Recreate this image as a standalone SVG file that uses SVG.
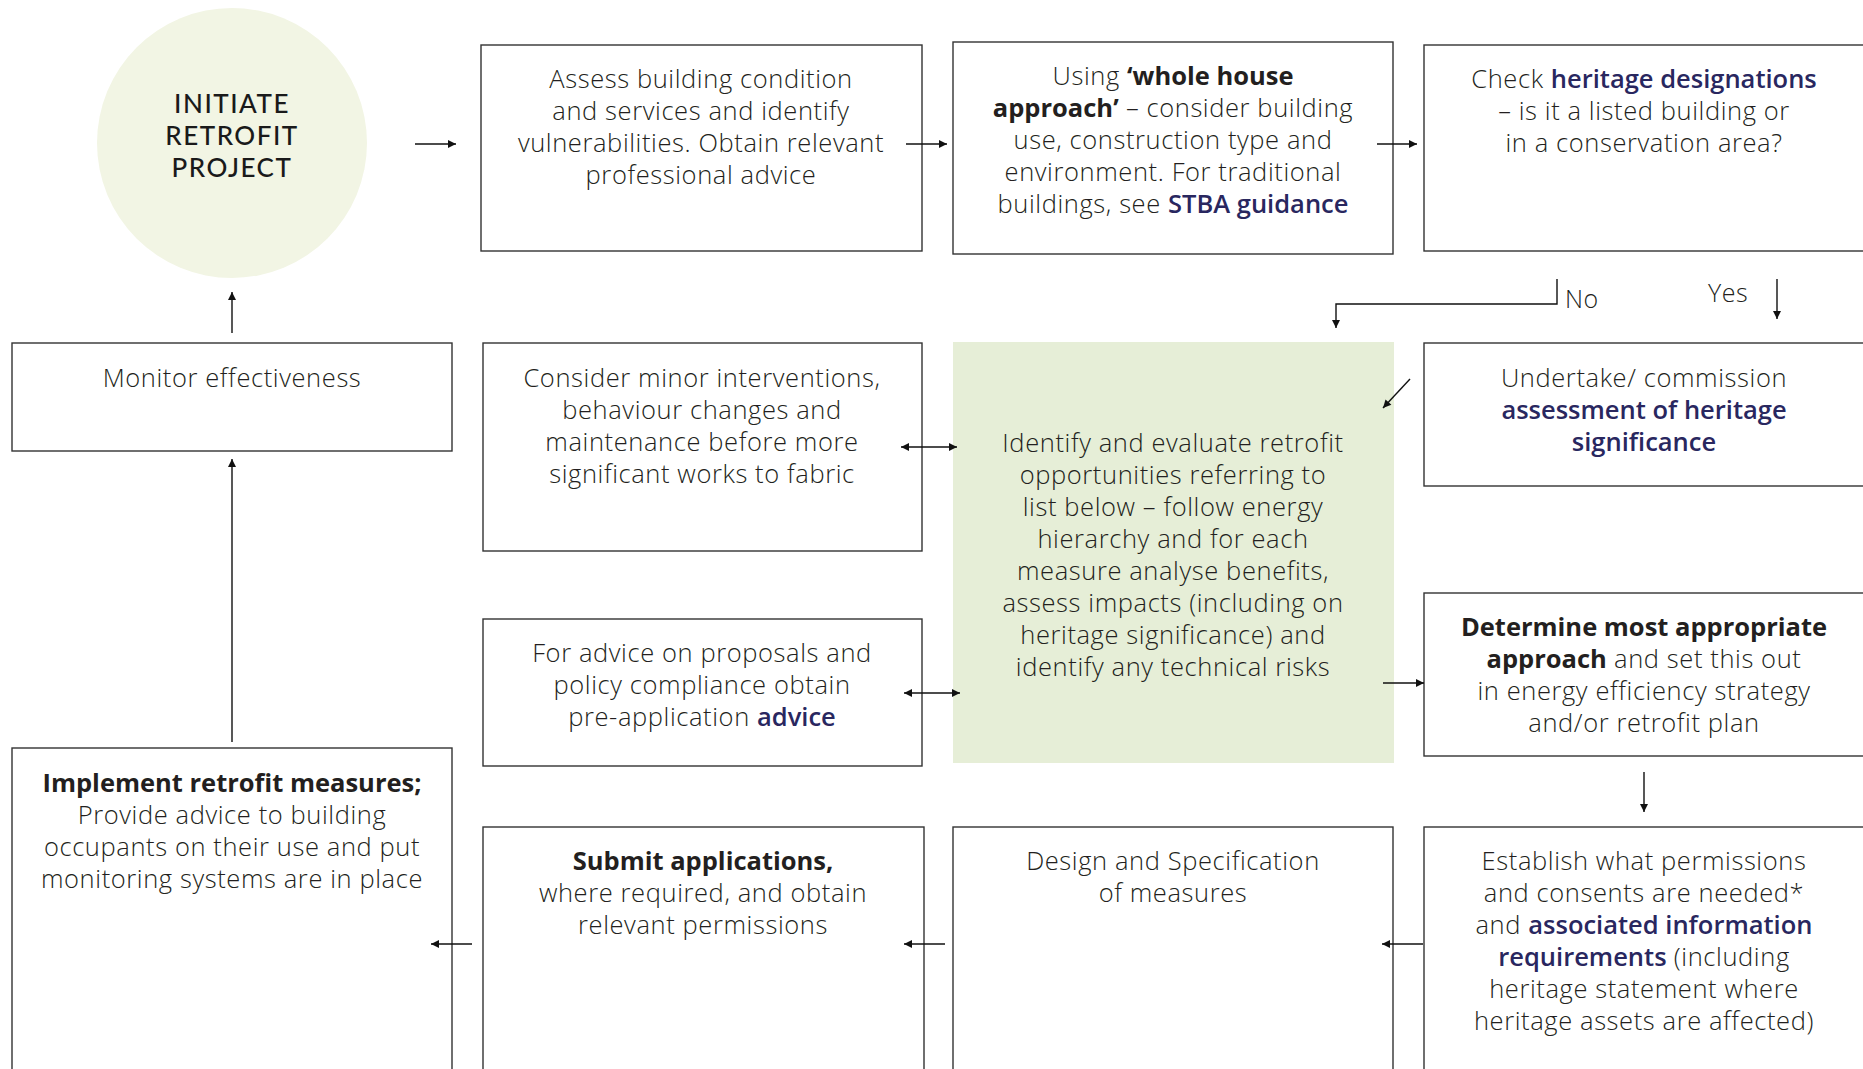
<svg xmlns="http://www.w3.org/2000/svg" width="1863" height="1069" viewBox="0 0 1863 1069">
  <style>
    .box { fill: #ffffff; stroke: #333333; stroke-width: 1.4; }
    .hub { fill: #e6eed7; stroke: none; }
    .t { font-family: "Open Sans", Lato, "Liberation Sans", sans-serif; font-size: 25.5px; font-weight: 300; fill: #231f20; text-anchor: middle; letter-spacing: 0.6px; }
    .b { font-weight: 700; letter-spacing: 0; }
    .hl { font-weight: 600; fill: #29275f; letter-spacing: 0; }
    .lbl { font-family: "Open Sans", Lato, "Liberation Sans", sans-serif; font-size: 25px; font-weight: 300; fill: #231f20; letter-spacing: 0.5px; }
    .start { font-family: Lato, "Open Sans", "Liberation Sans", sans-serif; font-size: 26px; font-weight: 500; fill: #1a1a1a; text-anchor: middle; letter-spacing: 1.5px; }
    .c { fill: none; stroke: #111111; stroke-width: 1.4; }
  </style>
  <defs>
    <marker id="arr" viewBox="0 0 10 10" refX="10" refY="5" markerWidth="9" markerHeight="8" markerUnits="userSpaceOnUse" orient="auto-start-reverse">
      <path d="M0,0 L10,5 L0,10 z" fill="#111111"/>
    </marker>
  </defs>

  <!-- start node -->
  <g id="initiate">
    <circle cx="232" cy="143" r="135" fill="#f2f5e4"/>
    <text class="start"><tspan x="232" y="113">INITIATE</tspan><tspan x="232" y="145">RETROFIT</tspan><tspan x="232" y="177">PROJECT</tspan></text>
  </g>

  <g id="assess">
    <rect class="box" x="481" y="45" width="441" height="206"/>
    <text class="t"><tspan x="701" y="88">Assess building condition</tspan><tspan x="701" y="120">and services and identify</tspan><tspan x="701" y="152">vulnerabilities. Obtain relevant</tspan><tspan x="701" y="184">professional advice</tspan></text>
  </g>

  <g id="whole-house">
    <rect class="box" x="953" y="42" width="440" height="212"/>
    <text class="t"><tspan x="1173" y="85">Using <tspan class="b">‘whole house</tspan></tspan><tspan x="1173" y="117"><tspan class="b">approach’</tspan> – consider building</tspan><tspan x="1173" y="149">use, construction type and</tspan><tspan x="1173" y="181">environment. For traditional</tspan><tspan x="1173" y="213">buildings, see <tspan class="hl">STBA guidance</tspan></tspan></text>
  </g>

  <g id="heritage-check">
    <rect class="box" x="1424" y="45" width="441" height="206"/>
    <text class="t"><tspan x="1644" y="88">Check <tspan class="hl">heritage designations</tspan></tspan><tspan x="1644" y="120">– is it a listed building or</tspan><tspan x="1644" y="152">in a conservation area?</tspan></text>
  </g>

  <g id="monitor">
    <rect class="box" x="12" y="343" width="440" height="108"/>
    <text class="t"><tspan x="232" y="387">Monitor effectiveness</tspan></text>
  </g>

  <g id="minor">
    <rect class="box" x="483" y="343" width="439" height="208"/>
    <text class="t"><tspan x="702" y="387">Consider minor interventions,</tspan><tspan x="702" y="419">behaviour changes and</tspan><tspan x="702" y="451">maintenance before more</tspan><tspan x="702" y="483">significant works to fabric</tspan></text>
  </g>

  <g id="identify">
    <rect class="hub" x="953" y="342" width="441" height="421"/>
    <text class="t"><tspan x="1173" y="452">Identify and evaluate retrofit</tspan><tspan x="1173" y="484">opportunities referring to</tspan><tspan x="1173" y="516">list below – follow energy</tspan><tspan x="1173" y="548">hierarchy and for each</tspan><tspan x="1173" y="580">measure analyse benefits,</tspan><tspan x="1173" y="612">assess impacts (including on</tspan><tspan x="1173" y="644">heritage significance) and</tspan><tspan x="1173" y="676">identify any technical risks</tspan></text>
  </g>

  <g id="significance">
    <rect class="box" x="1424" y="343" width="441" height="143"/>
    <text class="t"><tspan x="1644" y="387">Undertake/ commission</tspan><tspan x="1644" y="419" class="hl">assessment of heritage</tspan><tspan x="1644" y="451" class="hl">significance</tspan></text>
  </g>

  <g id="pre-app">
    <rect class="box" x="483" y="619" width="439" height="147"/>
    <text class="t"><tspan x="702" y="662">For advice on proposals and</tspan><tspan x="702" y="694">policy compliance obtain</tspan><tspan x="702" y="726">pre-application <tspan class="hl">advice</tspan></tspan></text>
  </g>

  <g id="determine">
    <rect class="box" x="1424" y="593" width="441" height="163"/>
    <text class="t"><tspan x="1644" y="636" class="b">Determine most appropriate</tspan><tspan x="1644" y="668"><tspan class="b">approach</tspan> and set this out</tspan><tspan x="1644" y="700">in energy efficiency strategy</tspan><tspan x="1644" y="732">and/or retrofit plan</tspan></text>
  </g>

  <g id="implement">
    <rect class="box" x="12" y="748" width="440" height="340"/>
    <text class="t"><tspan x="232" y="792" class="b">Implement retrofit measures;</tspan><tspan x="232" y="824">Provide advice to building</tspan><tspan x="232" y="856">occupants on their use and put</tspan><tspan x="232" y="888">monitoring systems are in place</tspan></text>
  </g>

  <g id="submit">
    <rect class="box" x="483" y="827" width="441" height="260"/>
    <text class="t"><tspan x="703" y="870" class="b">Submit applications,</tspan><tspan x="703" y="902">where required, and obtain</tspan><tspan x="703" y="934">relevant permissions</tspan></text>
  </g>

  <g id="design">
    <rect class="box" x="953" y="827" width="440" height="260"/>
    <text class="t"><tspan x="1173" y="870">Design and Specification</tspan><tspan x="1173" y="902">of measures</tspan></text>
  </g>

  <g id="permissions">
    <rect class="box" x="1424" y="827" width="441" height="260"/>
    <text class="t"><tspan x="1644" y="870">Establish what permissions</tspan><tspan x="1644" y="902">and consents are needed*</tspan><tspan x="1644" y="934">and <tspan class="hl">associated information</tspan></tspan><tspan x="1644" y="966"><tspan class="hl">requirements</tspan> (including</tspan><tspan x="1644" y="998">heritage statement where</tspan><tspan x="1644" y="1030">heritage assets are affected)</tspan></text>
  </g>

  <!-- connectors -->
  <g id="connectors">
    <line class="c" x1="415" y1="144" x2="456" y2="144" marker-end="url(#arr)"/>
    <line class="c" x1="906" y1="144" x2="947" y2="144" marker-end="url(#arr)"/>
    <line class="c" x1="1377" y1="144" x2="1417" y2="144" marker-end="url(#arr)"/>
    <path class="c" d="M1557,279 V304 H1336 V328" marker-end="url(#arr)"/>
    <line class="c" x1="1777" y1="279" x2="1777" y2="319" marker-end="url(#arr)"/>
    <line class="c" x1="1410" y1="379" x2="1383" y2="408" marker-end="url(#arr)"/>
    <line class="c" x1="901" y1="447" x2="957" y2="447" marker-start="url(#arr)" marker-end="url(#arr)"/>
    <line class="c" x1="904" y1="693" x2="960" y2="693" marker-start="url(#arr)" marker-end="url(#arr)"/>
    <line class="c" x1="1383" y1="683" x2="1424" y2="683" marker-end="url(#arr)"/>
    <line class="c" x1="1644" y1="772" x2="1644" y2="812" marker-end="url(#arr)"/>
    <line class="c" x1="1423" y1="944" x2="1382" y2="944" marker-end="url(#arr)"/>
    <line class="c" x1="945" y1="944" x2="904" y2="944" marker-end="url(#arr)"/>
    <line class="c" x1="472" y1="944" x2="431" y2="944" marker-end="url(#arr)"/>
    <line class="c" x1="232" y1="742" x2="232" y2="459" marker-end="url(#arr)"/>
    <line class="c" x1="232" y1="333" x2="232" y2="292" marker-end="url(#arr)"/>
    <text class="lbl" x="1565" y="308">No</text>
    <text class="lbl" x="1708" y="302">Yes</text>
  </g>
</svg>
